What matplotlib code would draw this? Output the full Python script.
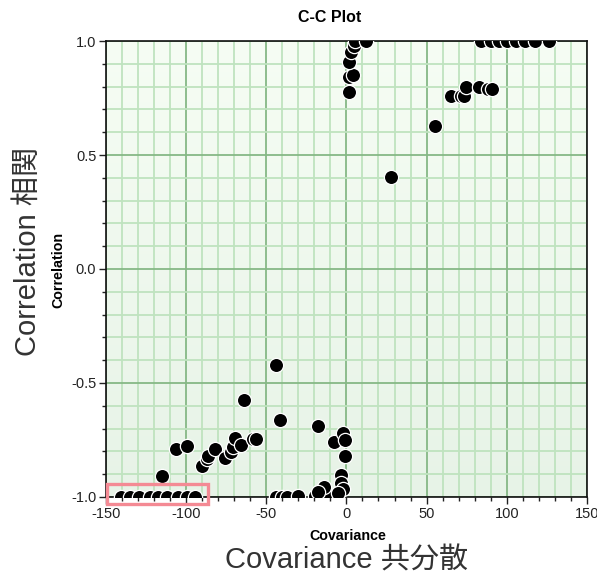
import matplotlib
matplotlib.use('Agg')
import matplotlib.pyplot as plt
from matplotlib.colors import LinearSegmentedColormap
from matplotlib.patches import Rectangle
import numpy as np

plt.rcParams['font.family'] = ['Liberation Sans', 'Noto Sans CJK JP']

# covariance / correlation pairs
cov = [
    # bottom row at -1
    -140.8, -135, -129.2, -122.6, -117.4, -112.2, -105, -99.4, -94.6,
    -44, -40.5, -37, -30.3, -19.9, -14.7, -12.6,
    # rising cloud on the left
    -115.3, -106.4, -99.4, -90.4, -86.9, -86.3, -82.1, -75.9, -71.8, -70.8,
    -69.7, -65.5, -64.1, -58.3, -56.6, -44.2, -41.7,
    # near zero, negative side
    -17.6, -7.5, -1.9, -1.2, -1.2, -3.3, -3.3, -2.3, -14.3, -5.4, -17.9,
    # near zero, positive side
    1.9, 1.9, 3.9, 1.6, 2.6, 5.0, 5.5, 12.2,
    # middle of the positive side
    27.8, 55.0, 65.1, 71.4, 73.4, 74.5, 82.8, 88.6, 91.0,
    # top row at +1
    83.8, 90, 95.2, 100.4, 105.6, 111.4, 117.6, 126.3,
]
corr = [
    -1, -1, -1, -1, -1, -1, -1, -1, -1,
    -1, -1, -1, -0.996, -0.996, -0.99, -0.995,
    -0.908, -0.789, -0.776, -0.862, -0.835, -0.82, -0.79, -0.83, -0.801, -0.782,
    -0.74, -0.773, -0.574, -0.747, -0.744, -0.421, -0.662,
    -0.689, -0.761, -0.718, -0.75, -0.82, -0.904, -0.94, -0.966, -0.955, -0.984, -0.98,
    0.775, 0.84, 0.85, 0.906, 0.95, 0.98, 1.0, 1.0,
    0.405, 0.627, 0.76, 0.76, 0.76, 0.797, 0.797, 0.788, 0.788,
    1, 1, 1, 1, 1, 1, 1, 1,
]

x_range = (-150, 150)
y_range = (-1.0, 1.0)
highlight = (-149.4, -1.031, 63.0, 0.088)  # x, y, width, height

fig = plt.figure(figsize=(5.97, 5.76), dpi=100)
ax = fig.add_axes([0.1776, 0.1372, 0.8054, 0.7916])

# soft green gradient background
cmap = LinearSegmentedColormap.from_list('bg', ['#e7f3e7', '#f6fdf4'])
ax.imshow(np.linspace(0, 1, 256).reshape(-1, 1), aspect='auto', cmap=cmap,
          extent=[x_range[0], x_range[1], y_range[0], y_range[1]],
          origin='lower', zorder=0)

ax.set_xlim(*x_range)
ax.set_ylim(*y_range)
ax.set_xticks(np.arange(-150, 151, 50))
ax.set_xticks(np.arange(-150, 151, 10), minor=True)
ax.set_yticks(np.arange(-1.0, 1.01, 0.5))
ax.set_yticks(np.arange(-1.0, 1.01, 0.1), minor=True)
ax.set_xticklabels(['-150', '-100', '-50', '0', '50', '100', '150'])
ax.set_yticklabels(['-1.0', '-0.5', '0.0', '0.5', '1.0'])

ax.grid(True, which='minor', color='#bfe3bf', linewidth=1.3, zorder=1)
ax.grid(True, which='major', color='#86b886', linewidth=1.3, zorder=1)
ax.set_axisbelow(True)

ax.tick_params(which='major', direction='out', length=5, width=1,
               color='#222222', labelsize=10.5, labelcolor='#222222', pad=2)
ax.tick_params(which='minor', direction='out', length=3, width=1,
               color='#222222')
for s in ax.spines.values():
    s.set_color('#111111')
    s.set_linewidth(1.2)

ax.scatter(cov, corr, s=105, c='black', edgecolors='white', linewidths=0.9,
           zorder=3)

ax.add_patch(Rectangle((highlight[0], highlight[1]), highlight[2], highlight[3],
                       fill=False, edgecolor='#f48a94', linewidth=2.4,
                       clip_on=False, zorder=4))

fig.text(0.552, 0.969, 'C-C Plot', ha='center', va='center',
         fontsize=11.5, fontweight='bold')
fig.text(0.5825, 0.069, 'Covariance', ha='center', va='center',
         fontsize=10.3, fontweight='bold')
fig.text(0.097, 0.531, 'Correlation', ha='center', va='center',
         fontsize=10.3, fontweight='bold', rotation=90)
fig.text(0.58, 0.027, 'Covariance 共分散', ha='center', va='center',
         fontsize=21, color='#333333')
fig.text(0.047, 0.564, 'Correlation 相関', ha='center', va='center',
         fontsize=21, color='#333333', rotation=90)

fig.savefig('out.png', dpi=100)
